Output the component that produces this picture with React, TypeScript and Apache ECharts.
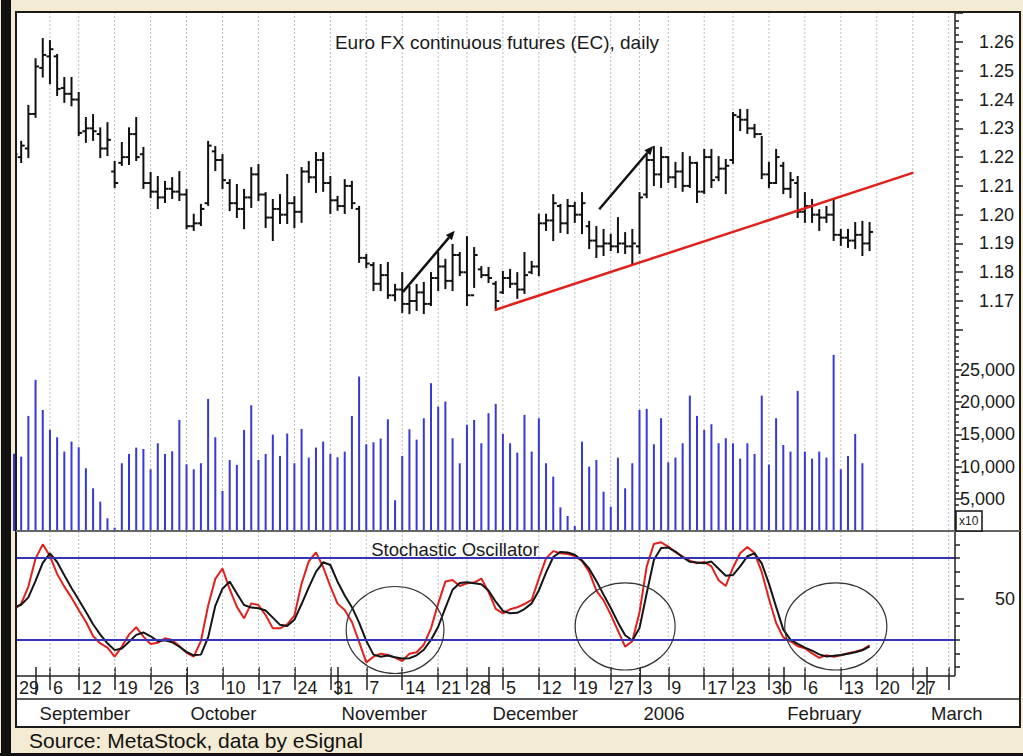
import React, { useEffect, useRef } from 'react';
import * as echarts from 'echarts';

const FONT = '"Liberation Sans", Arial, Helvetica, sans-serif';

// ---- x axis (trading-day index) ----
const X_MIN = 0.28;
const X_MAX = 130.88;
const weekTickIdx = [0.28, 5, 9, 14, 19, 24, 29, 34, 39, 44, 49, 54, 59, 63, 68, 73, 78, 83, 87, 91, 96, 100, 105, 110, 115, 120, 125, 130];
const weekLabels = ['29', '6', '12', '19', '26', '3', '10', '17', '24', '31', '7', '14', '21', '28', '5', '12', '19', '27', '3', '9', '17', '23', '30', '6', '13', '20', '27', ''];
const monthTickIdx = [0.28, 3, 24, 45, 66, 87, 107, 127];
const monthLabels = ['', 'September', 'October', 'November', 'December', '2006', 'February', 'March'];

// ---- price OHLC (Aug 29 2005 .. Feb 17 2006) ----
const highs = [1.2225,1.2253,1.2378,1.2540,1.2610,1.2603,1.2555,1.2475,1.2475,1.2423,
 1.2336,1.2346,1.2300,1.2318,1.2183,1.2249,1.2300,1.2336,1.2232,1.2145,
 1.2131,1.2114,1.2127,1.2148,1.2086,1.2000,1.2034,1.2253,1.2235,1.2207,
 1.2120,1.2103,1.2086,1.2162,1.2173,1.2075,1.2051,1.2068,1.2138,1.2061,
 1.2162,1.2183,1.2214,1.2214,1.2131,1.2062,1.2120,1.2114,1.2027,1.1860,
 1.1832,1.1825,1.1832,1.1756,1.1797,1.1749,1.1756,1.1763,1.1797,1.1867,
 1.1843,1.1895,1.1867,1.1922,1.1884,1.1818,1.1815,1.1766,1.1801,1.1808,
 1.1797,1.1867,1.1836,1.2000,1.2000,1.2068,1.2034,1.2051,1.2041,1.2075,
 1.1975,1.1957,1.1947,1.1930,1.1988,1.1936,1.1947,1.2075,1.2207,1.2235,
 1.2232,1.2200,1.2180,1.2214,1.2200,1.2180,1.2225,1.2225,1.2200,1.2190,
 1.2353,1.2364,1.2364,1.2312,1.2270,1.2180,1.2225,1.2180,1.2145,1.2131,
 1.2075,1.2051,1.2016,1.2027,1.2051,1.1947,1.1947,1.1971,1.1975,1.1971];
const lows = [1.2150,1.2183,1.2200,1.2340,1.2480,1.2457,1.2416,1.2392,1.2380,1.2277,
 1.2253,1.2260,1.2200,1.2207,1.2096,1.2173,1.2176,1.2190,1.2093,1.2061,
 1.2023,1.2044,1.2058,1.2051,1.1953,1.1947,1.1964,1.2034,1.2155,1.2093,
 1.2016,1.1992,1.1953,1.2027,1.2051,1.1957,1.1912,1.1971,1.1971,1.1957,
 1.1975,1.2114,1.2079,1.2083,1.2006,1.2017,1.2006,1.2023,1.1836,1.1818,
 1.1738,1.1738,1.1711,1.1703,1.1662,1.1658,1.1669,1.1658,1.1686,1.1738,
 1.1745,1.1738,1.1790,1.1686,1.1749,1.1783,1.1766,1.1669,1.1728,1.1749,
 1.1711,1.1728,1.1797,1.1790,1.1947,1.1912,1.1940,1.1936,1.1975,1.1936,
 1.1884,1.1853,1.1860,1.1877,1.1870,1.1867,1.1832,1.1867,1.2061,1.2103,
 1.2096,1.2114,1.2096,1.2083,1.2096,1.2044,1.2075,1.2096,1.2120,1.2075,
 1.2180,1.2294,1.2284,1.2270,1.2127,1.2096,1.2110,1.2075,1.2061,1.1992,
 1.1975,1.1975,1.1947,1.1975,1.1912,1.1895,1.1888,1.1884,1.1860,1.1877];
const opens = [1.2160,1.2200,1.2230,1.2350,1.2510,1.2550,1.2550,1.2440,1.2420,1.2400,
 1.2290,1.2300,1.2280,1.2230,1.2150,1.2180,1.2200,1.2280,1.2210,1.2110,
 1.2080,1.2060,1.2090,1.2080,1.2070,1.1960,1.1970,1.2040,1.2220,1.2190,
 1.2110,1.2040,1.2020,1.2060,1.2140,1.2070,1.1990,1.2020,1.2000,1.2040,
 1.2010,1.2150,1.2130,1.2190,1.2110,1.2050,1.2030,1.2100,1.2020,1.1850,
 1.1825,1.1760,1.1790,1.1720,1.1740,1.1690,1.1700,1.1730,1.1690,1.1780,
 1.1820,1.1770,1.1860,1.1800,1.1720,1.1810,1.1790,1.1760,1.1730,1.1780,
 1.1760,1.1740,1.1800,1.1820,1.1970,1.1980,1.2030,1.1970,1.2030,1.2000,
 1.1960,1.1910,1.1890,1.1900,1.1890,1.1900,1.1890,1.1890,1.2070,1.2190,
 1.2140,1.2200,1.2130,1.2150,1.2100,1.2180,1.2080,1.2200,1.2130,1.2160,
 1.2190,1.2340,1.2330,1.2300,1.2280,1.2140,1.2110,1.2170,1.2090,1.2110,
 1.2010,1.2030,1.2000,1.1990,1.2000,1.1930,1.1920,1.1910,1.1930,1.1900];
const closes = [1.2210,1.2240,1.2350,1.2515,1.2555,1.2575,1.2437,1.2420,1.2400,1.2284,
 1.2300,1.2290,1.2230,1.2260,1.2110,1.2200,1.2280,1.2200,1.2110,1.2080,
 1.2060,1.2090,1.2080,1.2070,1.1960,1.1970,1.2020,1.2240,1.2190,1.2120,
 1.2040,1.2020,1.2060,1.2140,1.2070,1.1990,1.2020,1.2000,1.2040,1.2010,
 1.2150,1.2130,1.2190,1.2110,1.2050,1.2030,1.2100,1.2040,1.1850,1.1830,
 1.1760,1.1790,1.1720,1.1740,1.1690,1.1700,1.1730,1.1690,1.1780,1.1820,
 1.1770,1.1860,1.1800,1.1720,1.1860,1.1790,1.1780,1.1700,1.1780,1.1760,
 1.1740,1.1790,1.1820,1.1970,1.1980,1.2040,1.1970,1.2030,1.2000,1.2040,
 1.1910,1.1890,1.1900,1.1890,1.1900,1.1890,1.1900,1.2060,1.2190,1.2140,
 1.2200,1.2130,1.2150,1.2100,1.2180,1.2080,1.2200,1.2120,1.2160,1.2170,
 1.2346,1.2330,1.2300,1.2280,1.2140,1.2110,1.2200,1.2090,1.2120,1.2010,
 1.2030,1.2000,1.1990,1.2000,1.1930,1.1920,1.1910,1.1930,1.1900,1.1940];

// ---- volume ----
const volumes = [12000, 11550, 17870, 23470, 18800, 15700, 14560, 12330, 13880, 13000,
 9740, 6630, 4560, 1970, 520, 10520, 11970, 12950, 12740, 9580,
 13620, 11970, 12380, 17250, 10360, 9580, 10520, 20510, 14560, 6220,
 11030, 10260, 15700, 19530, 11030, 11970, 14970, 11660, 15130, 10520,
 15850, 11400, 12950, 13880, 11970, 11450, 12330, 17870, 23980, 13470,
 13780, 14350, 17350, 4770, 11660, 15800, 14190, 17510, 22950, 19320,
 20100, 14400, 10520, 16470, 17250, 13620, 18290, 19740, 15070, 13620,
 12170, 18030, 12330, 17510, 10520, 8440, 3680, 2330, 780, 13880,
 10000, 11030, 6110, 3780, 11400, 6630, 10520, 18800, 18960, 13470,
 17510, 10670, 11400, 13620, 21030, 17870, 15700, 16580, 13620, 14400,
 13620, 11240, 13620, 11970, 21030, 10310, 17510, 13360, 12330, 21760,
 12330, 11240, 12330, 11400, 27350, 9580, 11660, 15070, 10520];

// ---- stochastic oscillator ----
const stochK = [41.9, 46.6, 59.1, 79.7, 90.2, 81.6, 68.4, 59.1, 51.0, 41.9,
 33.3, 22.8, 17.3, 14.2, 7.6, 15.0, 23.8, 29.3, 22.3, 16.9,
 17.8, 21.1, 19.9, 15.4, 10.4, 7.6, 19.1, 45.0, 64.8, 72.4,
 57.2, 44.2, 35.8, 46.8, 45.6, 38.2, 28.4, 28.4, 31.4, 37.7,
 61.3, 77.7, 84.3, 73.5, 59.2, 46.6, 41.9, 33.1, 18.5, 3.4,
 7.6, 9.8, 8.8, 6.9, 4.4, 9.8, 10.8, 16.4, 28.4, 46.6,
 62.8, 63.9, 59.6, 61.5, 62.1, 65.0, 55.2, 42.8, 39.5, 42.4,
 43.9, 46.3, 49.3, 65.0, 79.9, 85.2, 83.6, 83.1, 81.5, 78.0,
 69.9, 56.1, 49.0, 38.5, 26.7, 15.0, 18.9, 40.2, 74.0, 90.5,
 91.7, 88.5, 84.4, 81.1, 78.2, 76.3, 77.3, 74.0, 63.8, 59.6,
 73.0, 83.6, 88.3, 83.8, 69.9, 50.2, 32.4, 21.7, 18.9, 15.3,
 13.8, 10.0, 6.7, 8.7, 7.6, 8.7, 10.1, 11.3, 12.8, 16.0];
const stochD = [43.7, 45.8, 51.2, 63.3, 76.5, 83.6, 77.2, 67.4, 58.1, 49.4,
 40.7, 31.4, 23.8, 17.4, 12.4, 13.6, 18.5, 23.6, 25.4, 22.6,
 19.0, 19.6, 18.2, 14.9, 11.1, 8.6, 9.1, 21.8, 45.0, 57.6,
 62.8, 54.0, 45.6, 43.7, 43.2, 41.5, 36.3, 31.0, 30.2, 34.7,
 46.3, 58.6, 69.9, 77.0, 75.0, 62.7, 52.6, 44.0, 32.6, 19.2,
 9.1, 7.5, 8.4, 7.1, 6.2, 6.4, 8.6, 12.7, 19.9, 29.6,
 43.5, 56.8, 61.7, 62.3, 61.5, 60.8, 56.3, 48.0, 41.2, 39.5,
 39.8, 42.6, 46.8, 56.3, 69.4, 80.9, 84.6, 84.2, 82.5, 78.3,
 72.3, 63.3, 53.2, 43.4, 32.8, 23.3, 19.5, 28.6, 54.2, 78.7,
 87.5, 87.8, 84.9, 80.7, 77.3, 76.8, 76.3, 77.5, 72.3, 67.1,
 67.6, 74.0, 81.4, 83.6, 76.2, 61.3, 44.2, 27.5, 20.1, 17.0,
 14.2, 12.0, 9.3, 7.7, 8.2, 8.8, 9.8, 10.8, 12.3, 15.2];
const stochLevels = [80, 20];

// ---- axis tick labels ----
const priceTickLabels = [1.17, 1.18, 1.19, 1.20, 1.21, 1.22, 1.23, 1.24, 1.25, 1.26];
const priceMajorTicks = [1.16, 1.17, 1.18, 1.19, 1.20, 1.21, 1.22, 1.23, 1.24, 1.25, 1.26, 1.27];
const volumeTickLabels = [5000, 10000, 15000, 20000, 25000];
const stochTickLabels = [50];
const stochTicks = [0, 10, 20, 30, 40, 60, 70, 80, 90];

// ---- annotations (data coordinates) ----
const trendLine = [[66.9, 1.1669], [125.1, 1.2146]];
const arrows = [[54.1, 1.1732, 61.3, 1.1944], [81.4, 1.2019, 88.9, 1.2239]];
const circles = [[53, 27.2, 6.8, 32], [85, 29.8, 6.95, 32], [114.3, 29.8, 7.1, 32]];

const P_MIN = 1.15646, P_MAX = 1.27042;
const V_MAX = 29658;
const S_MIN = -6.62, S_MAX = 100;

const priceMinorTicks: number[] = [];
for (let k = 0; k <= 50; k++) {
  const v = Math.round((1.155 + 0.0025 * k) * 10000) / 10000;
  if (v > P_MIN && v < P_MAX && Math.round(v * 10000) % 100 !== 0) priceMinorTicks.push(v);
}
const volumeMinorTicks: number[] = [];
for (let v = 1000; v < V_MAX; v += 1000) if (v % 5000 !== 0) volumeMinorTicks.push(v);

const lookup = (ticks: number[], labels: string[]) => (v: number) => {
  const k = ticks.findIndex((t) => Math.abs(t - v) < 1e-6);
  return k >= 0 ? labels[k] : '';
};

const TXT = '#1a1a1a';

export default function App() {
  const ref = useRef<HTMLDivElement>(null);
  useEffect(() => {
    if (!ref.current) return;
    const chart = echarts.init(ref.current, null, { renderer: 'svg' });

    const gridLineRender = (params: any, api: any) => {
      const cs = params.coordSys;
      const x = api.coord([api.value(0), api.value(1)])[0];
      return {
        type: 'line',
        shape: { x1: x, y1: cs.y, x2: x, y2: cs.y + cs.height },
        style: { stroke: '#bdbdbd', lineWidth: 1, lineDash: [2, 2] },
        silent: true,
      };
    };
    const gridWeeks = weekTickIdx.slice(1);

    const ohlcData = highs.map((h, i) => [i, opens[i], h, lows[i], closes[i]]);
    const volData = volumes.map((v, i) => [i, v]);
    const kData = stochK.map((v, i) => [i, v]);
    const dData = stochD.map((v, i) => [i, v]);

    const xBase = { type: 'value', min: X_MIN, max: X_MAX };

    const option: any = {
      animation: false,
      backgroundColor: '#F3EBD3',
      textStyle: { fontFamily: FONT },
      grid: [
        { left: 16, right: 68, top: 12, height: 328 },
        { left: 16, right: 68, top: 340, height: 191 },
        { left: 16, right: 68, top: 531, height: 145 },
      ],
      xAxis: [
        { ...xBase, gridIndex: 0, show: false },
        { ...xBase, gridIndex: 1, show: false },
        {
          ...xBase, gridIndex: 2, position: 'bottom',
          axisLine: { show: false },
          splitLine: { show: false },
          axisTick: { show: true, length: 23, customValues: weekTickIdx, lineStyle: { color: '#222', width: 1.5 } },
          axisLabel: {
            show: true, customValues: weekTickIdx.slice(0, -1), formatter: lookup(weekTickIdx, weekLabels),
            align: 'left', padding: [0, 0, 0, 3], margin: 3, fontSize: 18, color: TXT, fontFamily: FONT,
          },
        },
        {
          ...xBase, gridIndex: 2, position: 'bottom', offset: 23,
          axisLine: { show: false },
          splitLine: { show: false },
          axisTick: { show: true, length: 28, customValues: monthTickIdx, lineStyle: { color: '#222', width: 1.5 } },
          axisLabel: {
            show: true, customValues: monthTickIdx, formatter: lookup(monthTickIdx, monthLabels),
            align: 'left', padding: [0, 0, 0, 4], margin: 5, fontSize: 18.5, color: TXT, fontFamily: FONT,
          },
        },
      ],
      yAxis: [
        {
          type: 'value', gridIndex: 0, position: 'right', min: P_MIN, max: P_MAX,
          axisLine: { show: false }, splitLine: { show: false },
          axisTick: { show: true, length: 8, customValues: priceMajorTicks, lineStyle: { color: '#222', width: 1.5 } },
          axisLabel: { show: true, customValues: priceTickLabels, formatter: (v: number) => v.toFixed(2), margin: 24, fontSize: 18, color: TXT, fontFamily: FONT },
        },
        {
          type: 'value', gridIndex: 0, position: 'right', min: P_MIN, max: P_MAX,
          axisLine: { show: false }, splitLine: { show: false },
          axisTick: { show: true, length: 4, customValues: priceMinorTicks, lineStyle: { color: '#222', width: 1.5 } },
          axisLabel: { show: false },
        },
        {
          type: 'value', gridIndex: 1, position: 'right', min: 0, max: V_MAX,
          axisLine: { show: false }, splitLine: { show: false },
          axisTick: { show: true, length: 7, customValues: volumeTickLabels, lineStyle: { color: '#222', width: 1.5 } },
          axisLabel: { show: true, customValues: volumeTickLabels, formatter: (v: number) => v.toLocaleString('en-US'), margin: 5, fontSize: 18, color: TXT, fontFamily: FONT },
        },
        {
          type: 'value', gridIndex: 1, position: 'right', min: 0, max: V_MAX,
          axisLine: { show: false }, splitLine: { show: false },
          axisTick: { show: true, length: 4, customValues: volumeMinorTicks, lineStyle: { color: '#222', width: 1.5 } },
          axisLabel: { show: false },
        },
        {
          type: 'value', gridIndex: 2, position: 'right', min: S_MIN, max: S_MAX,
          axisLine: { show: false }, splitLine: { show: false },
          axisTick: { show: true, length: 9, customValues: stochTickLabels, lineStyle: { color: '#222', width: 1.5 } },
          axisLabel: { show: true, customValues: stochTickLabels, formatter: (v: number) => String(Math.round(v)), margin: 40, fontSize: 18, color: TXT, fontFamily: FONT },
        },
        {
          type: 'value', gridIndex: 2, position: 'right', min: S_MIN, max: S_MAX,
          axisLine: { show: false }, splitLine: { show: false },
          axisTick: { show: true, length: 5, customValues: stochTicks, lineStyle: { color: '#222', width: 1.5 } },
          axisLabel: { show: false },
        },
      ],
      series: [
        { type: 'custom', xAxisIndex: 0, yAxisIndex: 0, z: 1, silent: true, renderItem: gridLineRender, data: gridWeeks.map((v) => [v, 1.2]) },
        {
          type: 'custom', name: 'EC', xAxisIndex: 0, yAxisIndex: 0, z: 3, clip: true,
          encode: { x: 0, y: [1, 2, 3, 4] },
          renderItem: (params: any, api: any) => {
            const x = api.value(0);
            const o = api.coord([x, api.value(1)]);
            const h = api.coord([x, api.value(2)]);
            const l = api.coord([x, api.value(3)]);
            const c = api.coord([x, api.value(4)]);
            const style = { stroke: '#111', lineWidth: 2 };
            return {
              type: 'group',
              children: [
                { type: 'line', shape: { x1: h[0], y1: h[1] - 1, x2: l[0], y2: l[1] + 1 }, style },
                { type: 'line', shape: { x1: o[0] - 3.5, y1: o[1], x2: o[0], y2: o[1] }, style },
                { type: 'line', shape: { x1: c[0], y1: c[1], x2: c[0] + 3.5, y2: c[1] }, style },
              ],
            };
          },
          data: ohlcData,
        },
        {
          type: 'line', xAxisIndex: 0, yAxisIndex: 0, z: 4, symbol: 'none', silent: true,
          lineStyle: { color: '#E0201B', width: 2.5 }, data: trendLine,
        },
        {
          type: 'custom', xAxisIndex: 0, yAxisIndex: 0, z: 4, silent: true,
          encode: { x: [0, 2], y: [1, 3] },
          renderItem: (params: any, api: any) => {
            const p1 = api.coord([api.value(0), api.value(1)]);
            const p2 = api.coord([api.value(2), api.value(3)]);
            const a = Math.atan2(p2[1] - p1[1], p2[0] - p1[0]);
            const L = 9, W = 4;
            const bx = p2[0] - L * Math.cos(a), by = p2[1] - L * Math.sin(a);
            const pts = [
              [p2[0], p2[1]],
              [bx + W * Math.sin(a), by - W * Math.cos(a)],
              [bx - W * Math.sin(a), by + W * Math.cos(a)],
            ];
            return {
              type: 'group',
              children: [
                { type: 'line', shape: { x1: p1[0], y1: p1[1], x2: bx, y2: by }, style: { stroke: '#111', lineWidth: 2.5 } },
                { type: 'polygon', shape: { points: pts }, style: { fill: '#111' } },
              ],
            };
          },
          data: arrows,
        },
        { type: 'custom', xAxisIndex: 1, yAxisIndex: 2, z: 1, silent: true, renderItem: gridLineRender, data: gridWeeks.map((v) => [v, 10000]) },
        {
          type: 'bar', name: 'Volume', xAxisIndex: 1, yAxisIndex: 2, z: 2, barWidth: 2,
          itemStyle: { color: '#3838D6' }, data: volData,
        },
        { type: 'custom', xAxisIndex: 2, yAxisIndex: 4, z: 1, silent: true, renderItem: gridLineRender, data: gridWeeks.map((v) => [v, 50]) },
        {
          type: 'line', name: '%K', xAxisIndex: 2, yAxisIndex: 4, z: 3, symbol: 'none',
          lineStyle: { color: '#E3211C', width: 2 }, data: kData,
          markLine: {
            silent: true, symbol: 'none', label: { show: false },
            lineStyle: { color: '#3434B4', width: 2, type: 'solid' },
            data: stochLevels.map((v) => ({ yAxis: v })),
          },
        },
        {
          type: 'line', name: '%D', xAxisIndex: 2, yAxisIndex: 4, z: 4, symbol: 'none',
          lineStyle: { color: '#141414', width: 2 }, data: dData,
        },
        {
          type: 'custom', xAxisIndex: 2, yAxisIndex: 4, z: 5, silent: true,
          renderItem: (params: any, api: any) => {
            const c = api.coord([api.value(0), api.value(1)]);
            const s = api.size([api.value(2), api.value(3)]);
            return {
              type: 'ellipse',
              shape: { cx: c[0], cy: c[1], rx: s[0], ry: s[1] },
              style: { stroke: '#333', lineWidth: 1.2, fill: 'none' },
            };
          },
          data: circles,
        },
      ],
      graphic: {
        elements: [
          { type: 'rect', z: -1, shape: { x: 16, y: 12, width: 1004, height: 715 }, style: { fill: '#ffffff' } },
          { type: 'rect', z: 100, shape: { x: 1, y: 0, width: 10, height: 756 }, style: { fill: '#111111' } },
          { type: 'rect', z: 100, shape: { x: 0, y: 753, width: 1023, height: 3 }, style: { fill: '#111111' } },
          { type: 'rect', z: 100, shape: { x: 16, y: 12, width: 1004, height: 715 }, style: { fill: 'none', stroke: '#1a1a1a', lineWidth: 2 } },
          { type: 'line', z: 100, shape: { x1: 955, y1: 12, x2: 955, y2: 676 }, style: { stroke: '#222', lineWidth: 1.5 } },
          { type: 'line', z: 100, shape: { x1: 16, y1: 531, x2: 1020, y2: 531 }, style: { stroke: '#666', lineWidth: 2 } },
          { type: 'line', z: 100, shape: { x1: 16, y1: 676, x2: 955, y2: 676 }, style: { stroke: '#222', lineWidth: 1.5 } },
          { type: 'line', z: 100, shape: { x1: 16, y1: 699, x2: 1020, y2: 699 }, style: { stroke: '#222', lineWidth: 1.5 } },
          { type: 'rect', z: 100, shape: { x: 956, y: 511, width: 26, height: 20 }, style: { fill: '#fff', stroke: '#111', lineWidth: 1.5 } },
          { type: 'text', z: 101, x: 959, y: 521, style: { text: 'x10', fontSize: 12, fontFamily: FONT, fill: TXT, verticalAlign: 'middle', align: 'left' } },
          { type: 'text', z: 50, x: 497, y: 42, style: { text: 'Euro FX continuous futures (EC), daily', fontSize: 19, fontFamily: FONT, fill: TXT, align: 'center', verticalAlign: 'middle' } },
          { type: 'text', z: 50, x: 455, y: 549, style: { text: 'Stochastic Oscillator', fontSize: 18.5, fontFamily: FONT, fill: TXT, align: 'center', verticalAlign: 'middle' } },
          { type: 'text', z: 50, x: 29, y: 740, style: { text: 'Source: MetaStock, data by eSignal', fontSize: 21, fontFamily: FONT, fill: '#111', align: 'left', verticalAlign: 'middle' } },
        ],
      },
    };
    chart.setOption(option);
    return () => chart.dispose();
  }, []);
  return <div ref={ref} style={{ position: 'fixed', left: 0, top: 0, width: 1023, height: 756 }} />;
}
